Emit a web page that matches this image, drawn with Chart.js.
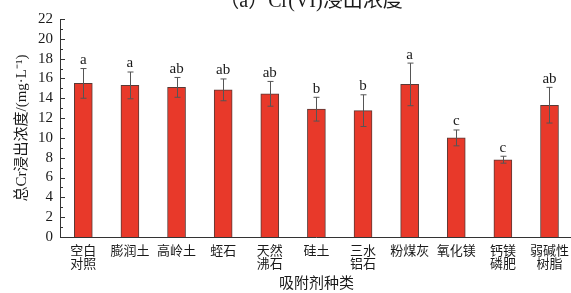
<!DOCTYPE html>
<html>
<head>
<meta charset="utf-8">
<script src="https://cdn.jsdelivr.net/npm/chart.js@4/dist/chart.umd.min.js"></script>
<style>
  html, body { margin: 0; padding: 0; background: #fff; overflow: hidden; }
  #wrap { width: 577px; height: 293px; }
</style>
</head>
<body>
<div id="wrap"><canvas id="c" width="577" height="293"></canvas></div>
<script>
const categories = [["空白","对照"], "膨润土", "高岭土", "蛭石", ["天然","沸石"], "硅土", ["三水","铝石"], "粉煤灰", "氧化镁", ["钙镁","磷肥"], ["弱碱性","树脂"]];
const meanValues = [15.5, 15.3, 15.1, 14.85, 14.45, 12.9, 12.75, 15.4, 10.0, 7.8, 13.3];
const errorValues = [1.5, 1.35, 1.0, 1.1, 1.25, 1.2, 1.6, 2.15, 0.8, 0.35, 1.8];
const sigLetters = ["a", "a", "ab", "ab", "ab", "b", "b", "a", "c", "c", "ab"];
const yMin = 0, yMax = 22, yStep = 2;
const chartTitle = "（a）Cr(VI)浸出浓度";
const yTitle = "总Cr浸出浓度/(mg·L⁻¹)";
const xTitle = "吸附剂种类";

const FONT = "'Liberation Serif', 'Noto Sans CJK SC', serif";
const TXT = '#1a1a1a';

const extras = {
  id: 'extras',
  afterDatasetsDraw(chart) {
    const ctx = chart.ctx;
    const ys = chart.scales.y;
    const meta = chart.getDatasetMeta(0);
    ctx.save();
    meta.data.forEach((bar, i) => {
      const x = Math.round(bar.x) + 0.5;
      const yt = ys.getPixelForValue(meanValues[i] + errorValues[i]);
      const yb = ys.getPixelForValue(meanValues[i] - errorValues[i]);
      ctx.strokeStyle = '#555';
      ctx.lineWidth = 1;
      ctx.beginPath();
      ctx.moveTo(x, yt); ctx.lineTo(x, yb);
      ctx.moveTo(x - 3, yt); ctx.lineTo(x + 3, yt);
      ctx.moveTo(x - 3, yb); ctx.lineTo(x + 3, yb);
      ctx.stroke();
      ctx.fillStyle = TXT;
      ctx.font = "15px " + FONT;
      ctx.textAlign = 'center';
      ctx.textBaseline = 'bottom';
      ctx.fillText(sigLetters[i], bar.x, yt - 1);
    });
    const left = chart.chartArea.left;
    ctx.strokeStyle = '#333';
    ctx.lineWidth = 1;
    ctx.beginPath();
    for (let v = yMin; v <= yMax; v += yStep / 2) {
      const y = Math.round(ys.getPixelForValue(v)) + 0.5;
      const len = (v % yStep === 0) ? 5 : 3;
      ctx.moveTo(left, y); ctx.lineTo(left + len, y);
    }
    ctx.stroke();
    ctx.fillStyle = TXT;
    ctx.font = "20px " + FONT;
    ctx.textAlign = 'center';
    ctx.textBaseline = 'alphabetic';
    ctx.fillText(chartTitle, 311, 7);
    ctx.restore();
  }
};

new Chart(document.getElementById('c'), {
  type: 'bar',
  data: {
    labels: categories,
    datasets: [{
      data: meanValues,
      backgroundColor: '#e8392a',
      borderColor: '#5a3a36',
      borderWidth: 1,
      barThickness: 18
    }]
  },
  options: {
    responsive: false,
    animation: false,
    devicePixelRatio: 1,
    layout: { padding: { top: 19, right: 0, bottom: 0, left: 0 } },
    plugins: { legend: { display: false }, tooltip: { enabled: false } },
    scales: {
      x: {
        grid: { display: false, drawTicks: false },
        border: { display: true, color: '#333', width: 1 },
        ticks: {
          color: TXT, padding: 8, maxRotation: 0, autoSkip: false,
          font: { family: FONT, size: 13, lineHeight: 1.0 }
        },
        title: {
          display: true, text: xTitle, color: TXT,
          font: { family: FONT, size: 15 }, padding: { top: 0, bottom: 0 }
        },
        afterFit(s) { s.height = 56; }
      },
      y: {
        min: yMin, max: yMax,
        grid: { display: false, drawTicks: false },
        border: { display: true, color: '#333', width: 1 },
        ticks: {
          stepSize: yStep, autoSkip: false, color: TXT, padding: 7,
          font: { family: FONT, size: 15 }
        },
        title: {
          display: true, text: yTitle, color: TXT,
          font: { family: FONT, size: 15 }, padding: { top: 13, bottom: 0 }
        },
        afterFit(s) { s.width = 60; }
      }
    }
  },
  plugins: [extras]
});
</script>
</body>
</html>
